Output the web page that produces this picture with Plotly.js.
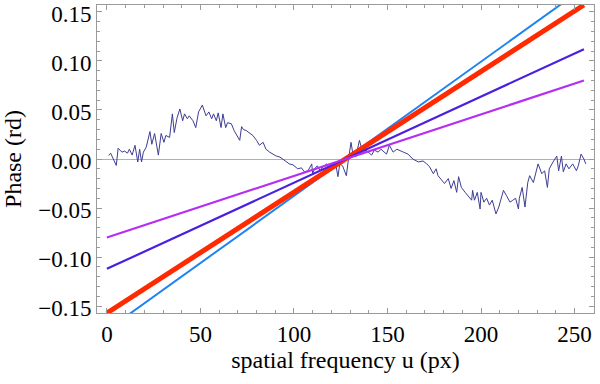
<!DOCTYPE html>
<html>
<head>
<meta charset="utf-8">
<script src="https://cdn.plot.ly/plotly-3.0.1.min.js"></script>
<style>
  html, body { margin: 0; padding: 0; background: #fff; }
  #plotDiv { width: 600px; height: 384px; }
</style>
</head>
<body>
<div id="plotDiv"></div>
<script>
let noiseU = [1, 2, 5, 6, 8, 9.5, 11, 12, 13.5, 15, 16.5, 17.5, 18.5, 19.5, 21, 23, 24, 25.5, 27.5, 29, 30.5, 31.5, 33.5,
  35, 36, 37.5, 39, 40.5, 41.5, 43, 44, 46, 47.5, 49, 51, 53, 54.5, 56, 57, 58.5, 59.5, 61, 62, 63.5, 64.5, 66.5, 68,
  69, 71, 72, 73, 74.5, 76.5, 78, 80, 81.5, 83.5, 85, 87, 89, 90.5, 92.5, 94, 96, 97.5, 99.5, 102, 104, 105.5, 107.5,
  109.5, 110, 111, 112.5, 114, 115.5, 117.5, 119, 121, 122.5, 123.5, 124.5, 126, 128, 129, 130.5, 131.5, 133, 135,
  137, 138.5, 141.5, 143, 145, 146.5, 149.5, 151, 153, 155, 156.5, 158.5, 161, 163.5, 166.5, 169, 171, 172.5, 174.5,
  176, 177, 179, 180.5, 182.5, 184, 185.5, 187, 188, 189.5, 191.5, 193, 195, 195.5, 196.5, 198, 199.5, 200, 201.5,
  203, 204.5, 206, 208, 209.5, 212, 213.5, 215.5, 217, 218.5, 220, 220.5, 222, 223.5, 225, 226, 228, 229, 230.5,
  232.5, 234, 235.5, 236.5, 238.5, 240.5, 241.5, 243, 244, 245.5, 247, 249, 251, 252, 253.5, 255, 256];
let noiseV = [0.0036, 0.0059, -0.0066, 0.011, 0.007, 0.008, 0.006, 0.010, 0.004, 0.014, -0.003, 0.010, -0.003, 0.007,
  0.012, 0.028, 0.015, 0.026, 0.004, 0.026, 0.017, 0.024, 0.022,
  0.046, 0.027, 0.042, 0.051, 0.039, 0.046, 0.041, 0.044, 0.039, 0.032, 0.048, 0.055, 0.044, 0.048, 0.041, 0.046,
  0.039, 0.047, 0.032, 0.046, 0.032, 0.037, 0.036, 0.029,
  0.026, 0.019, 0.033, 0.030, 0.029, 0.026, 0.024, 0.019, 0.014, 0.017, 0.010, 0.007, 0.005, 0.003, 0.002, 0.000,
  -0.003, -0.005, -0.006, -0.010, -0.009, -0.013, -0.012,
  -0.005, -0.015, -0.010, -0.007, -0.012, -0.008, -0.005, -0.010, -0.008, -0.007, -0.018, -0.005, -0.007, -0.017,
  -0.002, 0.017, 0.005, 0.002, 0.019,
  0.005, 0.009, 0.004, 0.009, 0.007, 0.010, 0.005, 0.014, 0.007, 0.010, 0.0085, 0.007, 0.005, 0.000, -0.003, -0.002,
  -0.005, -0.008, -0.015,
  -0.010, -0.017, -0.022, -0.025, -0.020, -0.030, -0.022, -0.034, -0.018, -0.029, -0.034, -0.037, -0.042, -0.032,
  -0.042, -0.034, -0.051, -0.034, -0.044,
  -0.040, -0.047, -0.042, -0.056, -0.049, -0.032, -0.037, -0.044, -0.042, -0.040, -0.051, -0.040, -0.029, -0.049,
  -0.024, -0.017, -0.024, -0.015, -0.005,
  -0.015, -0.012, -0.029, -0.010, -0.003, 0.003, -0.012, 0.003, -0.013, -0.005, -0.010, -0.005, -0.012, -0.007,
  0.005, 0.000, -0.005];

// fitted straight lines, end points at u = 0 and u = 255
let lineU = [0, 255];
let lightBlueV = [-0.1745, 0.1745];
let redV = [-0.157, 0.157];
let blueV = [-0.112, 0.112];
let magentaV = [-0.080, 0.080];

let data = [
  { x: noiseU, y: noiseV, mode: "lines", line: { color: "#3d3d94", width: 1 } },
  { x: lineU, y: lightBlueV, mode: "lines", line: { color: "#1f83f2", width: 2 } },
  { x: lineU, y: redV, mode: "lines", line: { color: "#ff2a00", width: 5 } },
  { x: lineU, y: blueV, mode: "lines", line: { color: "#4a1fe0", width: 2.2 } },
  { x: lineU, y: magentaV, mode: "lines", line: { color: "#b52ef2", width: 2.2 } }
];

let serif = "Liberation Serif, Times New Roman, serif";

let axisCommon = {
  showline: true,
  linecolor: "#9a9a9a",
  linewidth: 1,
  mirror: "ticks",
  ticks: "inside",
  ticklen: 5,
  tickcolor: "#9a9a9a",
  showgrid: false,
  ticklabeloverflow: "allow",
  tickfont: { family: serif, size: 23, color: "#000" }
};

let layout = {
  width: 600,
  height: 384,
  margin: { l: 97, r: 6, t: 5, b: 71 },
  paper_bgcolor: "#fff",
  plot_bgcolor: "#fff",
  showlegend: false,
  font: { family: serif, size: 23, color: "#000" },
  xaxis: Object.assign({}, axisCommon, {
    range: [-5.3, 260.4],
    dtick: 50,
    tick0: 0,
    zeroline: false,
    minor: { ticks: "inside", ticklen: 3, dtick: 10, tickcolor: "#9a9a9a" },
    title: { text: "spatial frequency u (px)", standoff: 0, font: { size: 24 } }
  }),
  yaxis: Object.assign({}, axisCommon, {
    range: [-0.157, 0.157],
    dtick: 0.05,
    tick0: 0,
    tickformat: ".2f",
    ticklabelshift: 2,
    zeroline: true,
    zerolinecolor: "#b0b0b0",
    zerolinewidth: 1,
    minor: { ticks: "inside", ticklen: 3, dtick: 0.01, tickcolor: "#9a9a9a" },
    title: { text: "Phase (rd)", standoff: 12, font: { size: 24 } }
  })
};

Plotly.newPlot("plotDiv", data, layout, { staticPlot: true });
</script>
</body>
</html>
